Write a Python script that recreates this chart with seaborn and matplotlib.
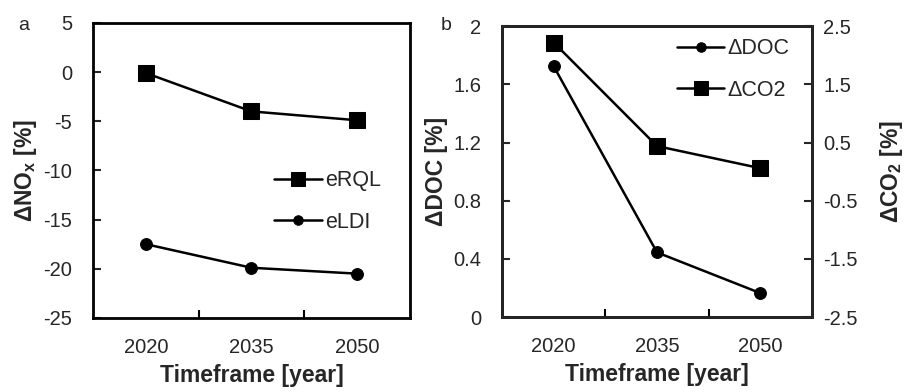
import matplotlib
matplotlib.use("Agg")
import matplotlib.pyplot as plt
import seaborn as sns
import pandas as pd
import numpy as np

years = ["2020", "2035", "2050"]
erql = [-0.1, -4.0, -4.9]
eldi = [-17.5, -19.9, -20.5]
ddoc = [1.725, 0.445, 0.165]
dco2 = [2.22, 0.44, 0.06]

sns.set_theme(style="ticks")
plt.rcParams['font.family'] = ['Liberation Sans', 'DejaVu Sans']
plt.rcParams['mathtext.fontset'] = 'custom'
plt.rcParams['mathtext.rm'] = 'Liberation Sans'
plt.rcParams['mathtext.bf'] = 'Liberation Sans:bold'
plt.rcParams['axes.unicode_minus'] = False

fig = plt.figure(figsize=(9.07, 3.92), dpi=100)
axa = fig.add_axes([0.1025, 0.189, 0.3495, 0.7526])
axb = fig.add_axes([0.5535, 0.191, 0.3418, 0.742])

pos = np.arange(len(years))
df = pd.DataFrame({"pos": pos, "eRQL": erql, "eLDI": eldi, "DOC": ddoc, "CO2": dco2})

lw = 1.8
sq = 12
ci = 8.5
TICK = 14.5
LAB = 16.5
LEG = 15.5

def style_axis(ax):
    for s in ax.spines.values():
        s.set_linewidth(2.0)
        s.set_color("black")
        s.set_visible(True)
    ax.set_xlim(-0.5, 2.5)
    ax.set_xticks(pos)
    ax.set_xticklabels(years, fontsize=TICK)
    ax.set_xticks([0.5, 1.5], minor=True)
    ax.tick_params(axis="x", which="major", length=0, pad=14.5)
    ax.tick_params(axis="x", which="minor", direction="in", length=6, width=1.5, color="black")
    ax.set_xlabel("Timeframe [year]", fontsize=LAB, fontweight="bold", labelpad=5)

# Panel a
sns.lineplot(data=df, x="pos", y="eRQL", ax=axa, color="black", lw=lw, marker="s",
             markersize=sq, markeredgecolor="black", label="eRQL")
sns.lineplot(data=df, x="pos", y="eLDI", ax=axa, color="black", lw=lw, marker="o",
             markersize=ci, markeredgecolor="black", label="eLDI")
style_axis(axa)
axa.set_ylim(-25, 5)
yt = np.arange(-25, 6, 5)
axa.set_yticks(yt)
axa.set_yticklabels([str(v) for v in yt])
axa.tick_params(axis="y", direction="in", length=6, width=1.5, labelsize=TICK, pad=15)
axa.set_ylabel(r"$\mathbf{\Delta NO_x}$ [%]", fontsize=LAB, fontweight="bold", labelpad=3)
axa.legend(loc="center right", bbox_to_anchor=(0.97, 0.395), frameon=False, fontsize=LEG,
           handlelength=2.2, handletextpad=0.15, labelspacing=0.95, markerscale=0.8)

# Panel b
sns.lineplot(data=df, x="pos", y="DOC", ax=axb, color="black", lw=lw, marker="o",
             markersize=ci, markeredgecolor="black", label="ΔDOC", legend=False)
axb2 = axb.twinx()
sns.lineplot(data=df, x="pos", y="CO2", ax=axb2, color="black", lw=lw, marker="s",
             markersize=sq, markeredgecolor="black", label="ΔCO2", legend=False)
style_axis(axb)
for s in axb2.spines.values():
    s.set_linewidth(2.0)
axb.set_ylim(0, 2)
axb.set_yticks([0, 0.4, 0.8, 1.2, 1.6, 2])
axb.set_yticklabels(["0", "0.4", "0.8", "1.2", "1.6", "2"])
axb.tick_params(axis="y", direction="in", length=6, width=1.5, labelsize=TICK, pad=15)
axb.set_ylabel("ΔDOC [%]", fontsize=LAB, fontweight="bold", labelpad=4)
axb2.set_ylim(-2.5, 2.5)
axb2.set_yticks([-2.5, -1.5, -0.5, 0.5, 1.5, 2.5])
axb2.set_yticklabels(["-2.5", "-1.5", "-0.5", "0.5", "1.5", "2.5"])
axb2.tick_params(axis="y", direction="in", length=6, width=1.5, labelsize=TICK, pad=8)
axb2.set_ylabel(r"$\mathbf{\Delta CO_2}$ [%]", fontsize=LAB, fontweight="bold", labelpad=15)
h1, l1 = axb.get_legend_handles_labels()
h2, l2 = axb2.get_legend_handles_labels()
axb2.legend(h1 + h2, l1 + l2, loc="upper right", bbox_to_anchor=(0.99, 1.025), frameon=False,
            fontsize=LEG, handlelength=2.2, handletextpad=0.15, labelspacing=0.95, markerscale=0.8)

fig.text(18 / 907, 1 - 25 / 392, "a", fontsize=14, ha="left", va="center")
fig.text(441 / 907, 1 - 25 / 392, "b", fontsize=14, ha="left", va="center")

fig.savefig("out.png", dpi=100)
